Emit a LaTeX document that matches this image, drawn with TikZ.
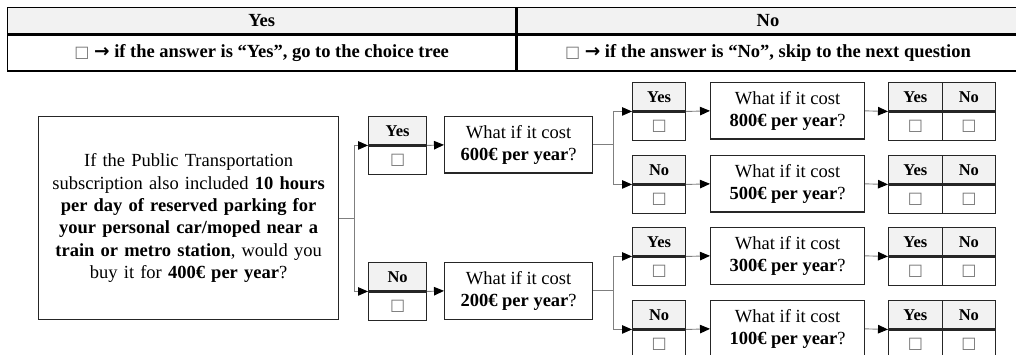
\documentclass[tikz,border=0pt]{standalone}
\usepackage{fontspec}
\setmainfont{Liberation Serif}
\newfontfamily\symfont{DejaVu Sans}
\usetikzlibrary{arrows.meta,positioning,calc}

\definecolor{hdrgray}{HTML}{F2F2F2}
\definecolor{linkgray}{HTML}{7F7F7F}
\definecolor{boxline}{HTML}{262626}

% small empty check square
\newcommand{\tick}{{\symfont\fontsize{16}{16}\selectfont\textcolor{black!55}{□}}}
\newcommand{\rarr}{{\symfont\bfseries →}}

\tikzset{
  cell/.style={draw=boxline, line width=1.2pt, inner sep=0pt, anchor=north west},
  hcell/.style={cell, fill=hdrgray, minimum height=28.25pt,
    font=\fontsize{16.5}{18}\selectfont\bfseries},
  ccell/.style={cell, fill=white, minimum height=28.25pt},
  qbox/.style={cell, minimum height=56.5pt, align=center,
    font=\fontsize{18.5}{22.6}\selectfont},
  tcell/.style={draw=black, line width=1.3pt, inner sep=0pt, anchor=north west,
    font=\fontsize{18.5}{20}\selectfont\bfseries},
  link/.style={draw=linkgray, line width=0.9pt},
  arr/.style={-{Triangle[length=10pt,width=8.5pt,black]}},
}

% answer box: header with label, check square below
\newcommand{\answer}[5]{%
  \node[hcell, minimum width=#4] (#1h) at (#2,#3) {#5};
  \node[ccell, minimum width=#4, below=0pt of #1h] (#1c) {\tick};
}

\begin{document}
\begin{tikzpicture}[x=1pt, y=-1pt]
  \useasboundingbox (0,0) rectangle (1016,355);
  \clip (0,0) rectangle (1016,355);

  % legend table
  \node[tcell, fill=hdrgray, minimum width=508pt, minimum height=26pt] (hdrYes) at (7,7) {Yes};
  \node[tcell, fill=hdrgray, minimum width=502pt, minimum height=26pt, right=0pt of hdrYes] (hdrNo) {No};
  \node[tcell, minimum width=508pt, minimum height=36pt, below=0pt of hdrYes] (rowYes)
    {\tick\ \rarr\ if the answer is “Yes”, go to the choice tree};
  \node[tcell, minimum width=502pt, minimum height=36pt, below=0pt of hdrNo] (rowNo)
    {\tick\ \rarr\ if the answer is “No”, skip to the next question};

  % main question
  \node[cell, minimum width=300pt, minimum height=203pt, text width=290pt, align=center,
    font=\fontsize{18.5}{22.4}\selectfont] (q400) at (38,116)
    {If the Public Transportation\\
     subscription also included \textbf{10 hours}\\
     \textbf{per day of reserved parking for}\\
     \textbf{your personal car/moped near a}\\
     \textbf{train or metro station}, would you\\
     buy it for \textbf{400€ per year}?};

  % first level
  \answer{aY}{368}{116}{58pt}{Yes}
  \answer{aN}{368}{262}{58pt}{No}
  \node[qbox, minimum width=148pt] (q600) at (444,116) {What if it cost\\\textbf{600€ per year}?};
  \node[qbox, minimum width=148pt] (q200) at (444,262) {What if it cost\\\textbf{200€ per year}?};

  % second level
  \answer{aYY}{632}{82}{53pt}{Yes}
  \answer{aYN}{632}{155}{53pt}{No}
  \answer{aNY}{632}{227}{53pt}{Yes}
  \answer{aNN}{632}{300}{53pt}{No}
  \node[qbox, minimum width=154pt] (q800) at (710,82) {What if it cost\\\textbf{800€ per year}?};
  \node[qbox, minimum width=154pt] (q500) at (710,155) {What if it cost\\\textbf{500€ per year}?};
  \node[qbox, minimum width=154pt] (q300) at (710,227) {What if it cost\\\textbf{300€ per year}?};
  \node[qbox, minimum width=154pt] (q100) at (710,300) {What if it cost\\\textbf{100€ per year}?};

  % final answers
  \foreach \nm/\top in {800/82, 500/155, 300/227, 100/300} {
    \answer{y\nm}{888}{\top}{53.5pt}{Yes}
    \answer{n\nm}{941.5}{\top}{53.5pt}{No}
  }

  % connectors
  \draw[link] (q400.east) -- ++(15,0) coordinate (s400);
  \draw[link, arr] (s400) |- (aYh.south west);
  \draw[link, arr] (s400) |- (aNh.south west);
  \draw[link, arr] (aYh.south east) -- (q600.west);
  \draw[link, arr] (aNh.south east) -- (q200.west);

  \draw[link] (q600.east) -- ++(20,0) coordinate (s600);
  \draw[link, arr] (s600) |- (aYYh.south west);
  \draw[link, arr] (s600) |- (aYNh.south west);
  \draw[link] (q200.east) -- ++(20,0) coordinate (s200);
  \draw[link, arr] (s200) |- (aNYh.south west);
  \draw[link, arr] (s200) |- (aNNh.south west);

  \draw[link, arr] (aYYh.south east) -- (q800.west);
  \draw[link, arr] (aYNh.south east) -- (q500.west);
  \draw[link, arr] (aNYh.south east) -- (q300.west);
  \draw[link, arr] (aNNh.south east) -- (q100.west);

  \foreach \nm in {800, 500, 300, 100}
    \draw[link, arr] (q\nm.east) -- (y\nm h.south west);
\end{tikzpicture}
\end{document}
